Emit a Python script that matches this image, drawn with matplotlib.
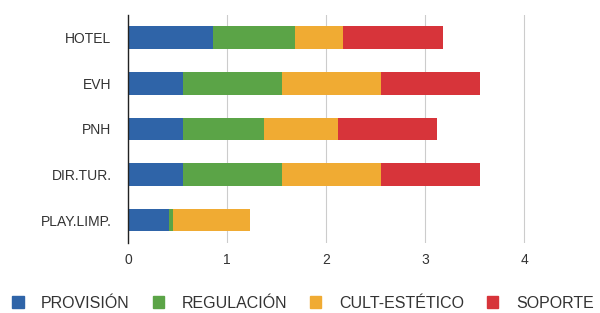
import matplotlib.pyplot as plt
from matplotlib.patches import Patch
import numpy as np

plt.rcParams['font.family'] = ['Liberation Sans', 'DejaVu Sans']

categories = ['HOTEL', 'EVH', 'PNH', 'DIR.TUR.', 'PLAY.LIMP.']
series_names = ['PROVISIÓN', 'REGULACIÓN', 'CULT-ESTÉTICO', 'SOPORTE']
provision = [0.86, 0.55, 0.55, 0.55, 0.41]
regulacion = [0.82, 1.00, 0.82, 1.00, 0.04]
cult_estetico = [0.49, 1.00, 0.75, 1.00, 0.78]
soporte = [1.01, 1.00, 1.00, 1.00, 0.0]
colors = ['#2f64a8', '#5ba447', '#f0ab33', '#d7343a']

fig = plt.figure(figsize=(6, 3.13), dpi=100)
ax = fig.add_axes([0.2135, 0.224, 0.71, 0.728])

y = np.arange(len(categories))
left = np.zeros(len(categories))
for vals, name, col in zip([provision, regulacion, cult_estetico, soporte],
                           series_names, colors):
    ax.barh(y, vals, left=left, height=0.5, color=col, label=name, zorder=3)
    left += np.array(vals)

ax.set_ylim(len(categories) - 0.5, -0.5)
ax.set_xlim(0, 4.3)
ax.set_yticks(y)
ax.set_yticklabels(categories)
ax.set_xticks([0, 1, 2, 3, 4])
ax.tick_params(axis='both', length=0, labelsize=10, colors='#333333')
ax.tick_params(axis='x', pad=7)
ax.tick_params(axis='y', pad=12)
ax.grid(axis='x', color='#cccccc', linewidth=0.8, zorder=0)
for s in ['top', 'right', 'bottom']:
    ax.spines[s].set_visible(False)
ax.spines['left'].set_color('#222222')
ax.spines['left'].set_linewidth(1.0)
ax.spines['left'].set_zorder(4)

handles = [Patch(color=c) for c in colors]
fig.legend(handles, series_names, loc='center', ncol=4,
           bbox_to_anchor=(0.505, 1 - 303 / 313), frameon=False,
           fontsize=11.5, handlelength=0.7, handleheight=0.7,
           handletextpad=1.1, columnspacing=1.45, labelcolor='#333333')

fig.savefig('out.png', dpi=100)
